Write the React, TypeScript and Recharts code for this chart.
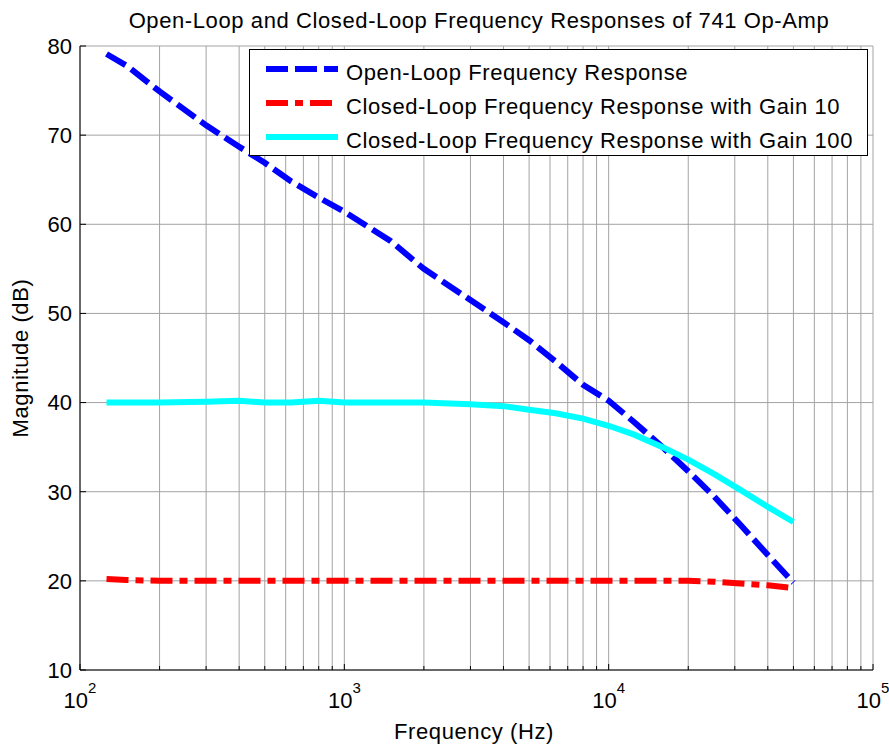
import React from "react";
import { LineChart, Line, XAxis, YAxis, CartesianGrid } from "recharts";

// frequency points (Hz)
const freqHz = [
  126, 150, 200, 300, 400, 500, 630, 800, 1000, 1500, 2000, 3000, 4000, 5000,
  6300, 8000, 10000, 12500, 16000, 20000, 25000, 31500, 40000, 50000,
];

// magnitudes in dB
const openLoop = [
  79.1, 77.8, 74.9, 71.1, 68.7, 66.9, 64.8, 63.0, 61.4, 58.1, 55.0, 51.5, 49.0,
  47.0, 44.6, 42.0, 40.2, 37.8, 35.0, 32.3, 29.5, 26.3, 22.9, 19.8,
];
const gain10 = [
  20.2, 20.1, 20.0, 20.0, 20.0, 20.0, 20.0, 20.0, 20.0, 20.0, 20.0, 20.0, 20.0,
  20.0, 20.0, 20.0, 20.0, 20.0, 20.0, 20.0, 19.9, 19.7, 19.5, 19.2,
];
const gain100 = [
  40.0, 40.0, 40.0, 40.1, 40.2, 40.0, 40.0, 40.2, 40.0, 40.0, 40.0, 39.8, 39.6,
  39.2, 38.8, 38.2, 37.4, 36.4, 35.0, 33.6, 32.0, 30.2, 28.3, 26.6,
];

const xTicks = [
  100, 200, 300, 400, 500, 600, 700, 800, 900, 1000, 2000, 3000, 4000, 5000,
  6000, 7000, 8000, 9000, 10000, 20000, 30000, 40000, 50000, 60000, 70000,
  80000, 90000, 100000,
];
const yTicks = [10, 20, 30, 40, 50, 60, 70, 80];

const seriesNames = [
  "Open-Loop Frequency Response",
  "Closed-Loop Frequency Response with Gain 10",
  "Closed-Loop Frequency Response with Gain 100",
];

const styles = [
  { key: "open", color: "#0000ff", dash: "22 7" },
  { key: "g10", color: "#ff0000", dash: "22 7 8 7" },
  { key: "g100", color: "#00ffff", dash: undefined as string | undefined },
];

const data = freqHz.map((f, i) => ({
  f,
  open: openLoop[i],
  g10: gain10[i],
  g100: gain100[i],
}));

const FONT = "'Liberation Sans', Arial, sans-serif";

const isDecade = (v: number) => {
  const e = Math.log10(v);
  return Math.abs(e - Math.round(e)) < 1e-9;
};

const BottomTick = (props: any) => {
  const { x, y, payload } = props;
  const major = isDecade(payload.value);
  return (
    <g>
      <line x1={x} y1={y} x2={x} y2={y - (major ? 6 : 4)} stroke="#000" />
      {major && (
        <text
          x={x}
          y={y + 38}
          textAnchor="middle"
          fontSize={22}
          fontFamily={FONT}
          fill="#000"
        >
          10
          <tspan dy={-15} fontSize={15}>
            {Math.round(Math.log10(payload.value))}
          </tspan>
        </text>
      )}
    </g>
  );
};

const TopTick = (props: any) => {
  const { x, y, payload } = props;
  const major = isDecade(payload.value);
  return <line x1={x} y1={y} x2={x} y2={y + (major ? 6 : 4)} stroke="#000" />;
};

const LeftTick = (props: any) => {
  const { x, y, payload } = props;
  return (
    <g>
      <line x1={x} y1={y} x2={x + 6} y2={y} stroke="#000" />
      <text
        x={x - 8}
        y={y}
        dy="0.36em"
        textAnchor="end"
        fontSize={22}
        fontFamily={FONT}
        fill="#000"
      >
        {payload.value}
      </text>
    </g>
  );
};

const RightTick = (props: any) => {
  const { x, y } = props;
  return <line x1={x} y1={y} x2={x - 6} y2={y} stroke="#000" />;
};

const textStyle: React.CSSProperties = {
  fontFamily: FONT,
  fontSize: 22,
  letterSpacing: 0.6,
  color: "#000",
};

export default function App() {
  return (
    <div
      style={{
        position: "absolute",
        left: 0,
        top: 0,
        width: 889,
        height: 747,
        background: "#fff",
      }}
    >
      <LineChart
        width={889}
        height={747}
        data={data}
        margin={{ top: 46, right: 16, bottom: 0, left: 0 }}
      >
        <CartesianGrid stroke="#a3a3a3" strokeWidth={1} />
        <XAxis
          dataKey="f"
          type="number"
          scale="log"
          domain={[100, 100000]}
          allowDataOverflow
          ticks={xTicks}
          interval={0}
          height={77}
          tickSize={0}
          tickMargin={0}
          tick={<BottomTick />}
          axisLine={{ stroke: "#000" }}
        />
        <XAxis
          xAxisId="top"
          orientation="top"
          dataKey="f"
          type="number"
          scale="log"
          domain={[100, 100000]}
          allowDataOverflow
          ticks={xTicks}
          interval={0}
          height={0}
          tickSize={0}
          tickMargin={0}
          tick={<TopTick />}
          axisLine={{ stroke: "#000" }}
        />
        <YAxis
          type="number"
          domain={[10, 80]}
          ticks={yTicks}
          interval={0}
          width={80}
          tickSize={0}
          tickMargin={0}
          tick={<LeftTick />}
          axisLine={{ stroke: "#000" }}
        />
        <YAxis
          yAxisId="right"
          orientation="right"
          type="number"
          domain={[10, 80]}
          ticks={yTicks}
          interval={0}
          width={0}
          tickSize={0}
          tickMargin={0}
          tick={<RightTick />}
          axisLine={{ stroke: "#000" }}
        />
        {styles.map((s, i) => (
          <Line
            key={s.key}
            name={seriesNames[i]}
            dataKey={s.key}
            type="linear"
            stroke={s.color}
            strokeWidth={6}
            strokeDasharray={s.dash}
            strokeLinecap="butt"
            dot={false}
            activeDot={false}
            isAnimationActive={false}
          />
        ))}
      </LineChart>

      {/* title and axis labels */}
      <svg
        width={889}
        height={747}
        style={{ position: "absolute", left: 0, top: 0, pointerEvents: "none" }}
      >
        <text
          x={479}
          y={28}
          textAnchor="middle"
          fontFamily={FONT}
          fontSize={22}
          letterSpacing={0.6}
          fill="#000"
        >
          Open-Loop and Closed-Loop Frequency Responses of 741 Op-Amp
        </text>
        <text
          x={474}
          y={739}
          textAnchor="middle"
          fontFamily={FONT}
          fontSize={22}
          letterSpacing={0.6}
          fill="#000"
        >
          Frequency (Hz)
        </text>
        <text
          transform="translate(28,358) rotate(-90)"
          textAnchor="middle"
          fontFamily={FONT}
          fontSize={22}
          letterSpacing={0.6}
          fill="#000"
        >
          Magnitude (dB)
        </text>
      </svg>

      {/* legend */}
      <div
        style={{
          position: "absolute",
          left: 249,
          top: 49,
          width: 619,
          height: 107,
          border: "1px solid #000",
          background: "#fff",
          boxSizing: "border-box",
        }}
      >
        {styles.map((s, i) => (
          <div
            key={s.key}
            style={{
              position: "absolute",
              left: 0,
              top: 6 + i * 34,
              height: 34,
              display: "flex",
              alignItems: "center",
              whiteSpace: "nowrap",
            }}
          >
            <svg width={96} height={34} style={{ display: "block" }}>
              <line
                x1={16}
                x2={88}
                y1={13}
                y2={13}
                stroke={s.color}
                strokeWidth={6}
                strokeDasharray={s.dash}
              />
            </svg>
            <span style={{ ...textStyle, lineHeight: "34px" }}>
              {seriesNames[i]}
            </span>
          </div>
        ))}
      </div>
    </div>
  );
}
